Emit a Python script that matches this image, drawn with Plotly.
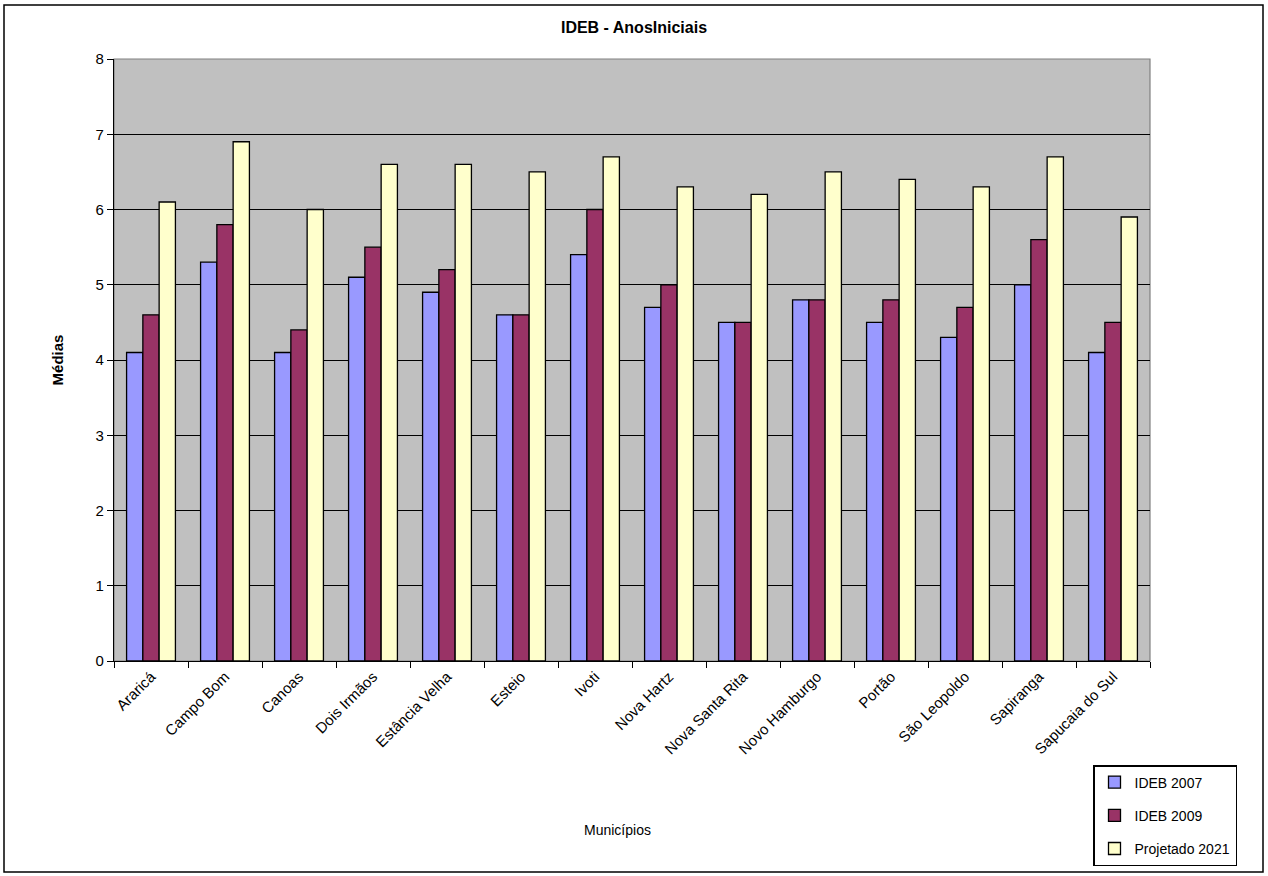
import plotly.graph_objects as go

categories = ["Araricá", "Campo Bom", "Canoas", "Dois Irmãos", "Estância Velha", "Esteio",
              "Ivoti", "Nova Hartz", "Nova Santa Rita", "Novo Hamburgo", "Portão",
              "São Leopoldo", "Sapiranga", "Sapucaia do Sul"]
ideb_2007 = [4.1, 5.3, 4.1, 5.1, 4.9, 4.6, 5.4, 4.7, 4.5, 4.8, 4.5, 4.3, 5.0, 4.1]
ideb_2009 = [4.6, 5.8, 4.4, 5.5, 5.2, 4.6, 6.0, 5.0, 4.5, 4.8, 4.8, 4.7, 5.6, 4.5]
projetado_2021 = [6.1, 6.9, 6.0, 6.6, 6.6, 6.5, 6.7, 6.3, 6.2, 6.5, 6.4, 6.3, 6.7, 5.9]
series_names = ["IDEB 2007", "IDEB 2009", "Projetado 2021"]
colors = ["#9999FF", "#993366", "#FFFFCC"]

W, H = 1268, 876
ml, mr, mt, mb = 114, 118, 59, 215
pw, ph = W - ml - mr, H - mt - mb

fig = go.Figure()
for i, (name, vals, c) in enumerate(zip(series_names, [ideb_2007, ideb_2009, projetado_2021], colors)):
    fig.add_trace(go.Bar(x=categories, y=vals, name=name, marker_color=c,
                         legendgroup=f"g{i}",
                         marker_line=dict(color="#000000", width=1.3)))

font_family = "Liberation Sans, Arial, sans-serif"

fig.update_layout(
    width=W, height=H,
    margin=dict(l=ml, r=mr, t=mt, b=mb, autoexpand=False),
    paper_bgcolor="white", plot_bgcolor="#C0C0C0",
    barmode="group", bargap=0.34, bargroupgap=0,
    font=dict(family=font_family, color="#000000"),
    title=dict(text="<b>IDEB - AnosIniciais</b>", x=0.5, xanchor="center",
               y=1 - 27 / H, yanchor="middle", font=dict(size=16, family=font_family)),
    showlegend=True,
    legend=dict(x=(1093 - ml) / pw, y=(mt + ph - 765) / ph, xanchor="left", yanchor="top",
                bgcolor="white", bordercolor="#000000", borderwidth=1.5,
                font=dict(size=14, family=font_family), tracegroupgap=12,
                traceorder="grouped", itemwidth=30),
    xaxis=dict(tickangle=-45, tickfont=dict(size=15, family=font_family),
               showline=True, linecolor="#000000", linewidth=1.3,
               ticks="outside", tickson="boundaries", ticklen=6, tickcolor="#000000",
               showgrid=False, fixedrange=True),
    yaxis=dict(range=[0, 8], dtick=1, tickfont=dict(size=15, family=font_family),
               showline=True, linecolor="#000000", linewidth=1.3,
               ticks="outside", ticklen=6, tickcolor="#000000",
               showgrid=True, gridcolor="#000000", gridwidth=1.2,
               zeroline=False, fixedrange=True,
               title=dict(text="<b>Médias</b>", font=dict(size=15, family=font_family), standoff=28)),
)

# plot area border (gray right side)
fig.add_shape(type="rect", xref="paper", yref="paper", x0=0, x1=1, y0=0, y1=1,
              line=dict(color="#808080", width=1.2), layer="below")
# outer chart border
fig.add_shape(type="rect", xref="paper", yref="paper",
              x0=(4 - ml) / pw, x1=(W - 5 - ml) / pw,
              y0=(mt + ph - (H - 4)) / ph, y1=(mt + ph - 5) / ph,
              line=dict(color="#000000", width=1.5))

fig.add_annotation(text="Municípios", xref="paper", yref="paper",
                   x=(617 - ml) / pw, y=(mt + ph - 830) / ph, showarrow=False,
                   font=dict(size=14, family=font_family), xanchor="center", yanchor="middle")

fig.write_html("out.html", config={"displayModeBar": False},
               post_script="document.body.style.margin='0';")
